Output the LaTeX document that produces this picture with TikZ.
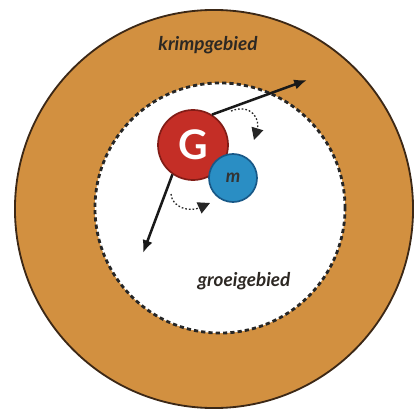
\documentclass[tikz,border=0pt]{standalone}
\usepackage{fontspec}
\setsansfont{Lato}
\definecolor{ringtan}{RGB}{210,144,64}
\definecolor{ringedge}{RGB}{60,40,22}
\definecolor{massred}{RGB}{196,46,38}
\definecolor{massedge}{RGB}{130,28,22}
\definecolor{moonblue}{RGB}{42,142,196}
\definecolor{moonedge}{RGB}{24,88,135}
\definecolor{labelgray}{RGB}{45,40,35}
\usetikzlibrary{arrows.meta, positioning}
\tikzset{
	shrinkzone/.style={circle, draw=ringedge, fill=ringtan, line width=1.3pt, minimum size=9.95cm, inner sep=0pt},
	growzone/.style={circle, draw=black!85, fill=white, line width=2pt, dash pattern=on 3pt off 2.2pt, minimum size=6.25cm, inner sep=0pt},
	bigmass/.style={circle, draw=massedge, fill=massred, line width=1.2pt, minimum size=1.75cm, inner sep=0pt, text=white, font=\sffamily\bfseries\fontsize{29}{30}\selectfont},
	smallmass/.style={circle, draw=moonedge, fill=moonblue, line width=1.2pt, minimum size=1.2cm, inner sep=0pt, text=black!80, font=\sffamily\itshape\bfseries\fontsize{13}{15}\selectfont},
	zonelabel/.style={font=\sffamily\itshape\bfseries\fontsize{13.5}{15}\selectfont, text=labelgray},
	push/.style={-{Latex[length=3.2mm, width=2.6mm]}, line width=1.8pt, draw=black!90},
	spin/.style={-{Triangle[length=3mm, width=3mm]}, line width=0.9pt, dash pattern=on 1.2pt off 1.4pt, draw=black!85},
}
\begin{document}
\begin{tikzpicture}[x=0.025cm, y=-0.025cm]
		\useasboundingbox (0,0) rectangle (419,412);
		\node[shrinkzone] (outer) at (214,209) {};
		\node[growzone] (inner) at (220,208) {};
		\node[zonelabel] (krimp) at (208,45) {krimpgebied};
		\node[zonelabel] (groei) at (244,281) {groeigebied};
		\node[bigmass] (G) at (193,145) {G};
		\node[smallmass] (m) at (233,178) {m};
		\coordinate (outtip) at (307,80);
		\coordinate (intip) at (143,253);
		\coordinate (spinA) at (231,111);
		\coordinate (spinB) at (171,194);
		\draw[push] (G.58) -- (outtip);
		\draw[push] (G.235) -- (intip);
		\draw[spin] (spinA) .. controls (252,103) and (260,120) .. (254,140);
		\draw[spin] (spinB) .. controls (172,208) and (190,212) .. (210,203);
	\end{tikzpicture}
\end{document}
